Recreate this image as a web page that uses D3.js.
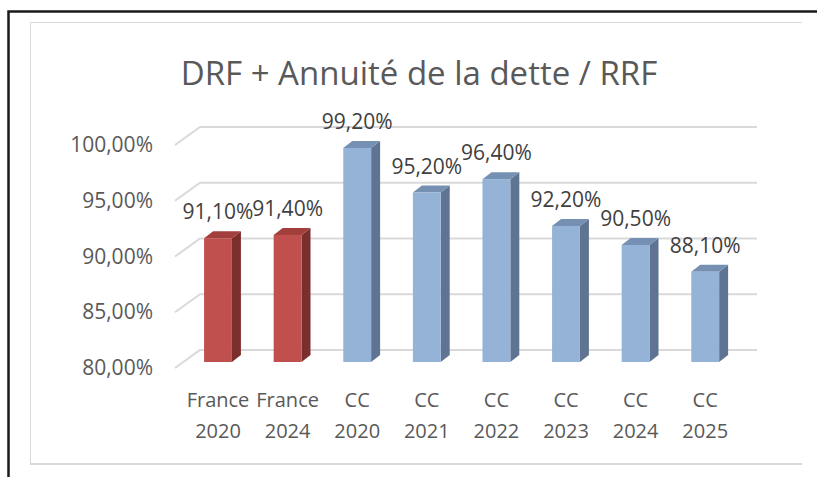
<!DOCTYPE html>
<html>
<head>
<meta charset="utf-8">
<script src="https://cdn.jsdelivr.net/npm/d3@7"></script>
<style>
  body { margin: 0; background: #fff; }
  text { font-family: "Open Sans", sans-serif; fill: #595959; }
</style>
</head>
<body>
<div id="chart"></div>
<script>
// chart data
const categories = ["France\n2020", "France\n2024", "CC\n2020", "CC\n2021", "CC\n2022", "CC\n2023", "CC\n2024", "CC\n2025"];
const groups = ["France", "France", "CC", "CC", "CC", "CC", "CC", "CC"];
const values = [91.1, 91.4, 99.2, 95.2, 96.4, 92.2, 90.5, 88.1];
const yTicks = [80, 85, 90, 95, 100];
const title = "DRF + Annuité de la dette / RRF";

const W = 817, H = 477;
const depth = {x: 25, y: 18};     // floor depth (front edge -> back wall)
const barDepth = {x: 9, y: 7};    // bar thickness
const fmt = v => d3.format(".2f")(v).replace(".", ",") + "%";

const svg = d3.select("#chart").append("svg")
  .attr("width", W)
  .attr("height", H);

// outer frame (black) and chart area border (light gray)
svg.append("path")
  .attr("d", `M8.5,${H} L8.5,11.5 L${W},11.5`)
  .attr("fill", "none")
  .attr("stroke", "#1a1a1a")
  .attr("stroke-width", 2.5);

svg.append("path")
  .attr("d", "M802,22.5 L30.5,22.5 L30.5,464")
  .attr("fill", "none")
  .attr("stroke", "#d9d9d9")
  .attr("stroke-width", 1);
svg.append("line")
  .attr("x1", 30).attr("x2", 802)
  .attr("y1", 464).attr("y2", 464)
  .attr("stroke", "#d9d9d9")
  .attr("stroke-width", 2);

// title
svg.append("text")
  .attr("x", 419)
  .attr("y", 85)
  .attr("text-anchor", "middle")
  .style("font-size", "33px")
  .text(title);

// scales: back wall y positions; front edge and bars are offset from it
const yBack = d3.scaleLinear().domain([80, 100]).range([350, 127]);
const yFront = v => yBack(v) + depth.y;
const yBar = v => yBack(v) + 12;

const x = d3.scaleBand()
  .domain(categories)
  .range([183.2, 740])
  .paddingInner(0.6)
  .paddingOuter(0.3);

const color = d3.scaleOrdinal()
  .domain(["France", "CC"])
  .range([
    {front: "#c0504d", side: "#7b2f2d", top: "#a23f3c"},
    {front: "#95b3d7", side: "#5f7493", top: "#7690b3"}
  ]);

// gridlines (floor edge diagonal + back wall line)
const wallLeft = 200, wallRight = 757;
const grid = svg.append("g").attr("class", "grid");
grid.selectAll("path")
  .data(yTicks)
  .join("path")
  .attr("d", d => `M${wallLeft - depth.x},${yFront(d)} L${wallLeft},${yBack(d)} L${wallRight},${yBack(d)}`)
  .attr("fill", "none")
  .attr("stroke", "#d9d9d9")
  .attr("stroke-width", 2);

// y axis labels
const yFrontScale = d3.scaleLinear().domain(yBack.domain()).range(yBack.range().map(r => r + depth.y));
const gy = svg.append("g")
  .attr("transform", "translate(153,0)")
  .call(d3.axisLeft(yFrontScale).tickValues(yTicks).tickFormat(fmt).tickSize(0).tickPadding(0));
gy.select(".domain").remove();
gy.selectAll("text")
  .style("font-size", "21px")
  .attr("fill", "#595959")
  .attr("font-family", null);

// 3D bars
const bars = svg.append("g").attr("class", "bars")
  .selectAll("g")
  .data(values.map((v, i) => ({v, cat: categories[i], grp: groups[i]})))
  .join("g");

bars.each(function(d) {
  const g = d3.select(this);
  const x0 = x(d.cat), x1 = x0 + x.bandwidth();
  const y0 = yBar(80), y1 = yBar(d.v);
  const c = color(d.grp);
  const dx = barDepth.x, dy = barDepth.y;
  g.append("path")
    .attr("d", `M${x1},${y1} L${x1 + dx},${y1 - dy} L${x1 + dx},${y0 - dy} L${x1},${y0} Z`)
    .attr("fill", c.side);
  g.append("path")
    .attr("d", `M${x0},${y1} L${x0 + dx},${y1 - dy} L${x1 + dx},${y1 - dy} L${x1},${y1} Z`)
    .attr("fill", c.top);
  g.append("rect")
    .attr("x", x0)
    .attr("y", y1)
    .attr("width", x.bandwidth())
    .attr("height", y0 - y1)
    .attr("fill", c.front);
});

// value labels
bars.append("text")
  .attr("x", d => x(d.cat) + x.bandwidth() / 2)
  .attr("y", d => yBar(d.v) - 19)
  .attr("text-anchor", "middle")
  .style("font-size", "21px")
  .style("fill", "#404040")
  .text(d => fmt(d.v));

// x axis labels (two lines)
const gx = svg.append("g")
  .attr("transform", "translate(0,380)")
  .call(d3.axisBottom(x).tickSize(0).tickPadding(0).tickFormat(""));
gx.select(".domain").remove();
gx.selectAll(".tick text").remove();
gx.selectAll(".tick").each(function(d) {
  const lines = d.split("\n");
  const t = d3.select(this).append("text")
    .attr("text-anchor", "middle")
    .style("font-size", "20px");
  lines.forEach((s, i) => {
    t.append("tspan")
      .attr("x", 0)
      .attr("y", 27 + i * 31)
      .text(s);
  });
});
</script>
</body>
</html>
